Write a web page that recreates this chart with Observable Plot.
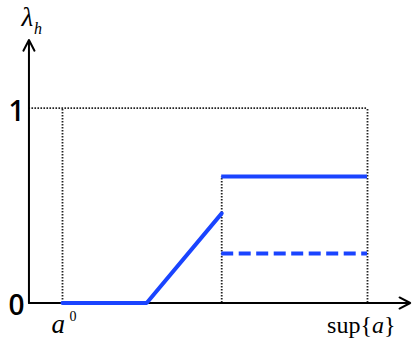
<!DOCTYPE html>
<html>
<head>
<meta charset="utf-8">
<script src="https://cdn.jsdelivr.net/npm/d3@7"></script>
<script src="https://cdn.jsdelivr.net/npm/@observablehq/plot@0.6"></script>
<style>
  body { margin: 0; background: #fff; }
</style>
</head>
<body>
<div id="chart"></div>
<script>
// Membership λ_h over the action range, from a⁰ (0) to sup{a} (1)
const rampX = [0, 0.276, 0.522];   // flat at zero, then rising
const rampY = [0, 0, 0.46];
const jumpX = 0.522;               // discontinuity point
const upperLevel = 0.65;           // solid branch after the jump
const lowerLevel = 0.254;          // dashed branch after the jump
const yTicks = [0, 1];
const axisOriginX = -0.11;         // where the vertical axis sits
const axisEndX = 1.14;             // tip of the horizontal arrow
const axisTopY = 1.35;             // tip of the vertical arrow

const blue = "#1a44ff";
const dotted = {stroke: "#222", strokeWidth: 1.8, strokeDasharray: "1.6,1.4"};
const serif = "Liberation Serif, Times New Roman, serif";

const ramp = rampX.map((x, i) => ({x, y: rampY[i]}));
const axes = [
  {x1: axisOriginX, y1: 0, x2: axisEndX, y2: 0},
  {x1: axisOriginX, y1: 0, x2: axisOriginX, y2: axisTopY}
];

const chart = Plot.plot({
  width: 414,
  height: 346,
  x: {domain: [0, 1], range: [62, 367], axis: null},
  y: {domain: [0, 1], range: [302.5, 107.7], axis: null},
  marks: [
    // dotted guides
    Plot.ruleY([1], {x1: axisOriginX, x2: 1, ...dotted}),
    Plot.ruleX([0, 1], {y1: 0, y2: 1, ...dotted}),
    Plot.ruleX([jumpX], {y1: 0, y2: upperLevel, ...dotted}),
    // axes with arrowheads
    Plot.arrow(axes, {
      x1: "x1", y1: "y1", x2: "x2", y2: "y2",
      stroke: "#000", strokeWidth: 2, headLength: 9, headAngle: 55
    }),
    // λ_h curve
    Plot.line(ramp, {x: "x", y: "y", stroke: blue, strokeWidth: 4, strokeLinejoin: "miter"}),
    Plot.ruleY([upperLevel], {x1: jumpX, x2: 1, stroke: blue, strokeWidth: 4}),
    Plot.ruleY([lowerLevel], {x1: jumpX, x2: 1, stroke: blue, strokeWidth: 4, strokeDasharray: "12,5.5"}),
    // y tick labels
    Plot.text(yTicks, {
      x: () => axisOriginX, y: d => d, text: d => String(d),
      dx: -12.5, dy: 3.5, textAnchor: "middle",
      fontSize: 28, fontWeight: 600, fontFamily: "Open Sans, sans-serif", fill: "#000"
    }),
    // axis title λ_h
    Plot.text(["λ"], {
      x: () => axisOriginX, y: () => axisTopY, text: d => d,
      dx: -1.5, dy: -14, lineAnchor: "bottom", textAnchor: "middle",
      fontSize: 27, fontStyle: "italic", fontFamily: serif, fill: "#000"
    }),
    Plot.text(["h"], {
      x: () => axisOriginX, y: () => axisTopY, text: d => d,
      dx: 5, dy: -6.5, lineAnchor: "bottom", textAnchor: "start",
      fontSize: 16, fontStyle: "italic", fontFamily: serif, fill: "#000"
    }),
    // x labels a⁰ and sup{a}
    Plot.text(["a"], {
      x: () => 0, y: () => 0, text: d => d,
      dx: -11, dy: 29.5, lineAnchor: "bottom", textAnchor: "start",
      fontSize: 27, fontStyle: "italic", fontFamily: serif, fill: "#000"
    }),
    Plot.text(["0"], {
      x: () => 0, y: () => 0, text: d => d,
      dx: 7, dy: 17.5, lineAnchor: "bottom", textAnchor: "start",
      fontSize: 14, fontFamily: serif, fill: "#000"
    }),
    Plot.text(["sup{a}"], {
      x: () => 1, y: () => 0, text: d => d,
      dx: 28, dy: 29.5, lineAnchor: "bottom", textAnchor: "end",
      fontSize: 24, fontFamily: serif, fill: "#000", className: "sup-label"
    })
  ]
});

// italic a inside the braces
d3.select(chart).selectAll(".sup-label text")
  .html('sup{<tspan font-style="italic">a</tspan>}');

document.getElementById("chart").append(chart);
</script>
</body>
</html>
